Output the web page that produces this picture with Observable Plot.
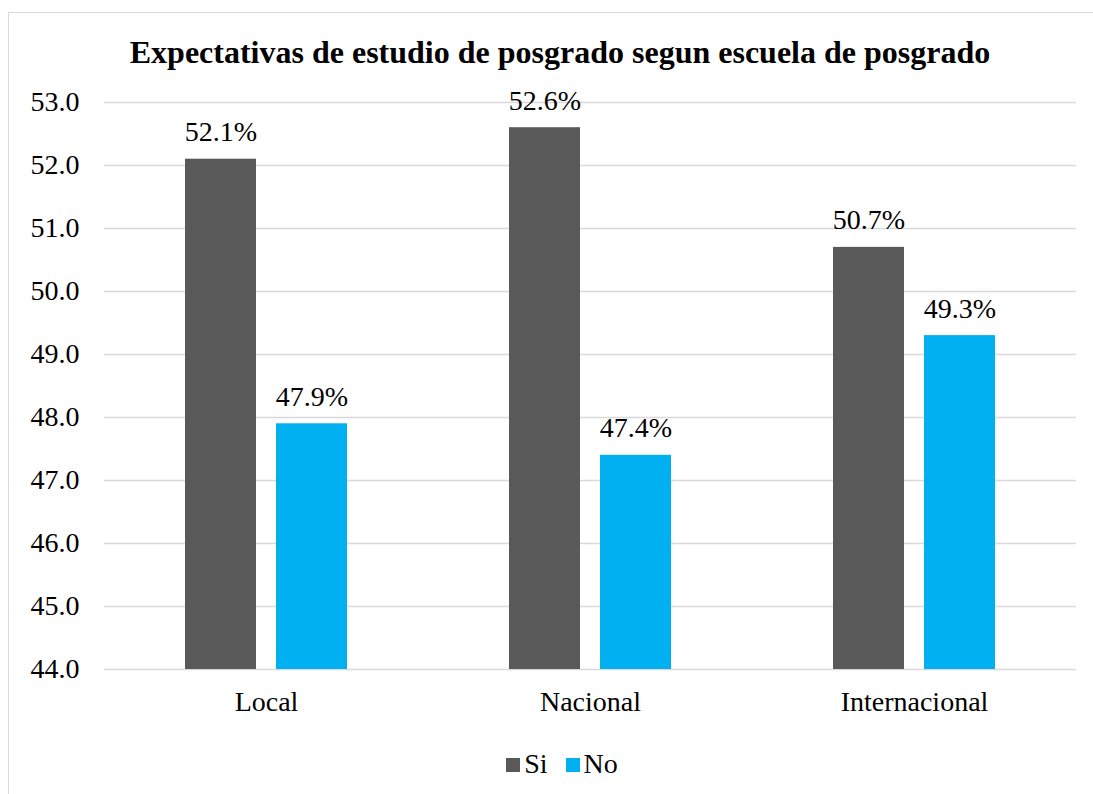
<!DOCTYPE html>
<html>
<head>
<meta charset="utf-8">
<script src="https://cdn.jsdelivr.net/npm/d3@7"></script>
<script src="https://cdn.jsdelivr.net/npm/@observablehq/plot@0.6"></script>
<style>
  html, body { margin: 0; padding: 0; background: #fff; }
  #wrap { position: relative; width: 1093px; height: 794px; overflow: hidden; font-family: "Liberation Serif", "Times New Roman", serif; }
  #frame { position: absolute; left: 8px; top: 12px; width: 1200px; height: 900px; border: 1.5px solid #d9d9d9; box-sizing: border-box; }
  #title { position: absolute; left: 0; width: 1120px; top: 32px; text-align: center; font-weight: bold; font-size: 32px; line-height: 40px; color: #000; }
  #chart { position: absolute; left: 0; top: 0; }
  #chart svg, #chart svg text { font-family: "Liberation Serif", "Times New Roman", serif !important; }
  #legend { position: absolute; left: 0; width: 1124px; top: 746px; text-align: center; font-size: 28px; line-height: 36px; color: #000; }
  #legend span.sw { display: inline-block; width: 14px; height: 14px; vertical-align: middle; margin-right: 4px; position: relative; top: -2px; }
  #legend span.item { margin: 0 9px; }
</style>
</head>
<body>
<div id="wrap">
  <div id="frame"></div>
  <div id="chart"></div>
  <div id="title"></div>
  <div id="legend"></div>
</div>
<script>
const titleText = "Expectativas de estudio de posgrado segun escuela de posgrado";
const categories = ["Local", "Nacional", "Internacional"];
const seriesNames = ["Si", "No"];
const siValues = [52.1, 52.6, 50.7];
const noValues = [47.9, 47.4, 49.3];
const yTicks = [44, 45, 46, 47, 48, 49, 50, 51, 52, 53];
const seriesColors = ["#595959", "#00B0F0"];

const yMin = yTicks[0];
const data = [];
categories.forEach((c, i) => {
  data.push({cat: c, series: seriesNames[0], value: siValues[i]});
  data.push({cat: c, series: seriesNames[1], value: noValues[i]});
});

document.getElementById("title").textContent = titleText;

const serif = "'Liberation Serif', 'Times New Roman', serif";
const plot = Plot.plot({
  width: 1093,
  height: 794,
  marginLeft: 103,
  marginRight: 16,
  marginTop: 102,
  marginBottom: 125,
  style: "font-family: " + serif + "; font-size: 28px; color: #000; background: transparent;",
  fx: { domain: categories, padding: 0, label: null, tickSize: 0, tickPadding: 22, axis: "bottom" },
  x: { domain: seriesNames, axis: null, paddingInner: 0.2174, paddingOuter: 0.873 },
  y: { domain: [yTicks[0], yTicks[yTicks.length - 1]], ticks: yTicks, tickFormat: d => d.toFixed(1), tickSize: 0, tickPadding: 25, label: null },
  color: { domain: seriesNames, range: seriesColors },
  marks: [
    Plot.ruleY(yTicks, { stroke: "#d9d9d9", strokeWidth: 1.5 }),
    Plot.barY(data, { fx: "cat", x: "series", y1: yMin, y2: "value", fill: "series" }),
    Plot.text(data, { fx: "cat", x: "series", y: "value", text: d => d.value.toFixed(1) + "%", dy: -27, fontSize: 28, fontFamily: serif, fill: "#000", lineAnchor: "middle" })
  ]
});
document.getElementById("chart").appendChild(plot);

const legend = document.getElementById("legend");
seriesNames.forEach((s, i) => {
  const item = document.createElement("span");
  item.className = "item";
  const sw = document.createElement("span");
  sw.className = "sw";
  sw.style.background = seriesColors[i];
  item.appendChild(sw);
  item.appendChild(document.createTextNode(s));
  legend.appendChild(item);
});
</script>
</body>
</html>
